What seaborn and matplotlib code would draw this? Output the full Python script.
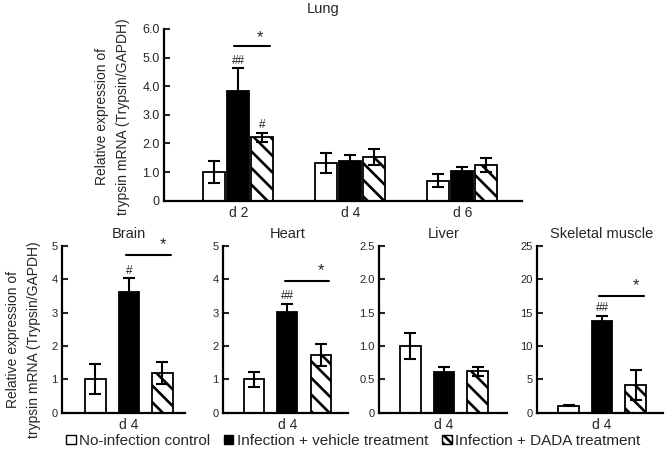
import matplotlib
matplotlib.use("Agg")
import matplotlib.pyplot as plt
import seaborn as sns
import pandas as pd
import numpy as np
from matplotlib.patches import Patch

sns.set_style("ticks")
plt.rcParams['font.family'] = ['Liberation Sans', 'DejaVu Sans']
plt.rcParams['hatch.linewidth'] = 1.9

# ---------------- data ----------------
groups = ['No-infection control', 'Infection + vehicle treatment', 'Infection + DADA treatment']

lung_days = ['d 2', 'd 4', 'd 6']
lung_ctrl = [1.0, 1.31, 0.70]
lung_ctrl_err = [0.38, 0.35, 0.23]
lung_veh = [3.85, 1.37, 1.03]
lung_veh_err = [0.78, 0.23, 0.14]
lung_dada = [2.22, 1.52, 1.25]
lung_dada_err = [0.16, 0.28, 0.23]
lung_yticks = [0, 1, 2, 3, 4, 5, 6]
lung_yticklabels = ['0', '1.0', '2.0', '3.0', '4.0', '5.0', '6.0']

organs = ['Brain', 'Heart', 'Liver', 'Skeletal muscle']
organ_day = ['d 4']
organ_ctrl = [1.0, 1.0, 1.0, 1.05]
organ_ctrl_err = [0.45, 0.23, 0.20, 0.10]
organ_veh = [3.63, 3.02, 0.61, 13.8]
organ_veh_err = [0.40, 0.24, 0.08, 0.75]
organ_dada = [1.20, 1.72, 0.62, 4.15]
organ_dada_err = [0.33, 0.33, 0.07, 2.3]
organ_ymax = [5, 5, 2.5, 25]
organ_yticks = [[0, 1, 2, 3, 4, 5], [0, 1, 2, 3, 4, 5],
                [0, 0.5, 1.0, 1.5, 2.0, 2.5], [0, 5, 10, 15, 20, 25]]
organ_yticklabels = [['0', '1', '2', '3', '4', '5'], ['0', '1', '2', '3', '4', '5'],
                     ['0', '0.5', '1.0', '1.5', '2.0', '2.5'], ['0', '5', '10', '15', '20', '25']]

# significance marks
lung_hash_veh = ['##', '', '']
lung_hash_dada = ['#', '', '']
lung_star_y = [5.39, None, None]
organ_hash_veh = ['#', '##', '', '##']
organ_star_y = [4.73, 3.96, None, 17.55]

palette = ['white', 'black', 'white']
LW = 1.3
HATCH = '\\\\'


def style_axis(ax, ticksize):
    for s in ['top', 'right']:
        ax.spines[s].set_visible(False)
    for s in ['left', 'bottom']:
        ax.spines[s].set_linewidth(1.6)
        ax.spines[s].set_color('black')
    ax.tick_params(axis='y', direction='in', length=4, width=1.5, labelsize=ticksize, pad=3)
    ax.tick_params(axis='x', length=0, labelsize=10, pad=4)
    ax.set_xlabel('')


def draw(ax, df, cats, errs, gap, width):
    sns.barplot(data=df, x='day', y='value', hue='group', order=cats, hue_order=groups,
                palette=palette, edgecolor='black', linewidth=LW, width=width, gap=gap,
                errorbar=None, legend=False, ax=ax)
    bars = list(ax.patches)[:len(groups) * len(cats)]
    centers = {}
    k = 0
    for gi, g in enumerate(groups):
        for ci, c in enumerate(cats):
            p = bars[k]
            k += 1
            if gi == 2:
                p.set_hatch(HATCH)
            x = p.get_x() + p.get_width() / 2
            h = p.get_height()
            centers[(gi, ci)] = (x, h)
            ax.errorbar(x, h, yerr=errs[gi][ci], color='black', elinewidth=1.5,
                        capsize=4.5, capthick=1.5, zorder=5)
    return centers


YLABEL = 'Relative expression of\ntrypsin mRNA (Trypsin/GAPDH)'

fig = plt.figure(figsize=(6.67, 4.55), dpi=100)

# ---------------- Lung ----------------
ax = fig.add_axes([0.2459, 0.5589, 0.5367, 0.3774])
rows = []
for g, vals in zip(groups, [lung_ctrl, lung_veh, lung_dada]):
    for d, v in zip(lung_days, vals):
        rows.append(dict(day=d, group=g, value=v))
df = pd.DataFrame(rows)
cen = draw(ax, df, lung_days, [lung_ctrl_err, lung_veh_err, lung_dada_err], gap=0.1, width=0.643)
ax.set_ylim(0, 6)
ax.set_xlim(-0.663, 2.533)
ax.set_yticks(lung_yticks)
ax.set_yticklabels(lung_yticklabels)
style_axis(ax, 9)
ax.set_ylabel(YLABEL, fontsize=10, linespacing=1.6)
ax.yaxis.set_label_coords(-0.095, 0.49)
for ci in range(len(lung_days)):
    xv, hv = cen[(1, ci)]
    xd, hd = cen[(2, ci)]
    if lung_hash_veh[ci]:
        ax.text(xv, hv + lung_veh_err[ci] + 0.05, lung_hash_veh[ci], ha='center', va='bottom', fontsize=8.5)
    if lung_hash_dada[ci]:
        ax.text(xd, hd + lung_dada_err[ci] + 0.05, lung_hash_dada[ci], ha='center', va='bottom', fontsize=8.5)
    if lung_star_y[ci] is not None:
        ax.plot([xv - 0.04, xd + 0.07], [lung_star_y[ci]] * 2, color='black', lw=1.5, clip_on=False)
        ax.text(xd - 0.02, lung_star_y[ci] + 0.04, '*', ha='center', va='bottom', fontsize=12)
fig.text(323 / 667, 1 - 9 / 455, 'Lung', ha='center', va='center', fontsize=10.5)

# ---------------- organs ----------------
lefts = [62, 223, 379, 537]
widths = [123, 125, 128, 126]
xlims = [(-0.5, 0.418), (-0.48, 0.452), (-0.485, 0.47), (-0.485, 0.455)]
for i, organ in enumerate(organs):
    ax = fig.add_axes([lefts[i] / 667, 0.0930, widths[i] / 667, 0.3663])
    rows = []
    for g, v in zip(groups, [organ_ctrl[i], organ_veh[i], organ_dada[i]]):
        rows.append(dict(day=organ_day[0], group=g, value=v))
    df = pd.DataFrame(rows)
    errs = [[organ_ctrl_err[i]], [organ_veh_err[i]], [organ_dada_err[i]]]
    cen = draw(ax, df, organ_day, errs, gap=0.4, width=0.75)
    ax.set_ylim(0, organ_ymax[i])
    ax.set_xlim(*xlims[i])
    ax.set_yticks(organ_yticks[i])
    ax.set_yticklabels(organ_yticklabels[i])
    style_axis(ax, 8)
    ax.set_ylabel('')
    if i == 0:
        ax.set_ylabel(YLABEL, fontsize=10, linespacing=1.6)
        ax.yaxis.set_label_coords(-0.17, 0.44)
    xv, hv = cen[(1, 0)]
    xd, hd = cen[(2, 0)]
    ym = organ_ymax[i]
    if organ_hash_veh[i]:
        ax.text(xv, hv + organ_veh_err[i] + 0.01 * ym, organ_hash_veh[i], ha='center', va='bottom', fontsize=8.5)
    if organ_star_y[i] is not None:
        ax.plot([xv - 0.02, xd + 0.06], [organ_star_y[i]] * 2, color='black', lw=1.5, clip_on=False)
        ax.text(xd, organ_star_y[i] + 0.015 * ym, '*', ha='center', va='bottom', fontsize=12)
    ax.text(xv, 1.03, organ, transform=ax.get_xaxis_transform(), ha='center', va='bottom', fontsize=10.5)

# ---------------- legend ----------------
handles = [Patch(facecolor=palette[j], edgecolor='black', linewidth=1.0,
                 hatch='\\\\\\\\' if j == 2 else None) for j in range(3)]
fig.legend(handles, groups, loc='center', bbox_to_anchor=(0.53, 0.031), ncol=3, frameon=False,
           fontsize=11, handlelength=0.6, handleheight=0.6, handletextpad=0.25,
           columnspacing=0.9, borderaxespad=0, borderpad=0)

fig.savefig('out.png', dpi=100)
